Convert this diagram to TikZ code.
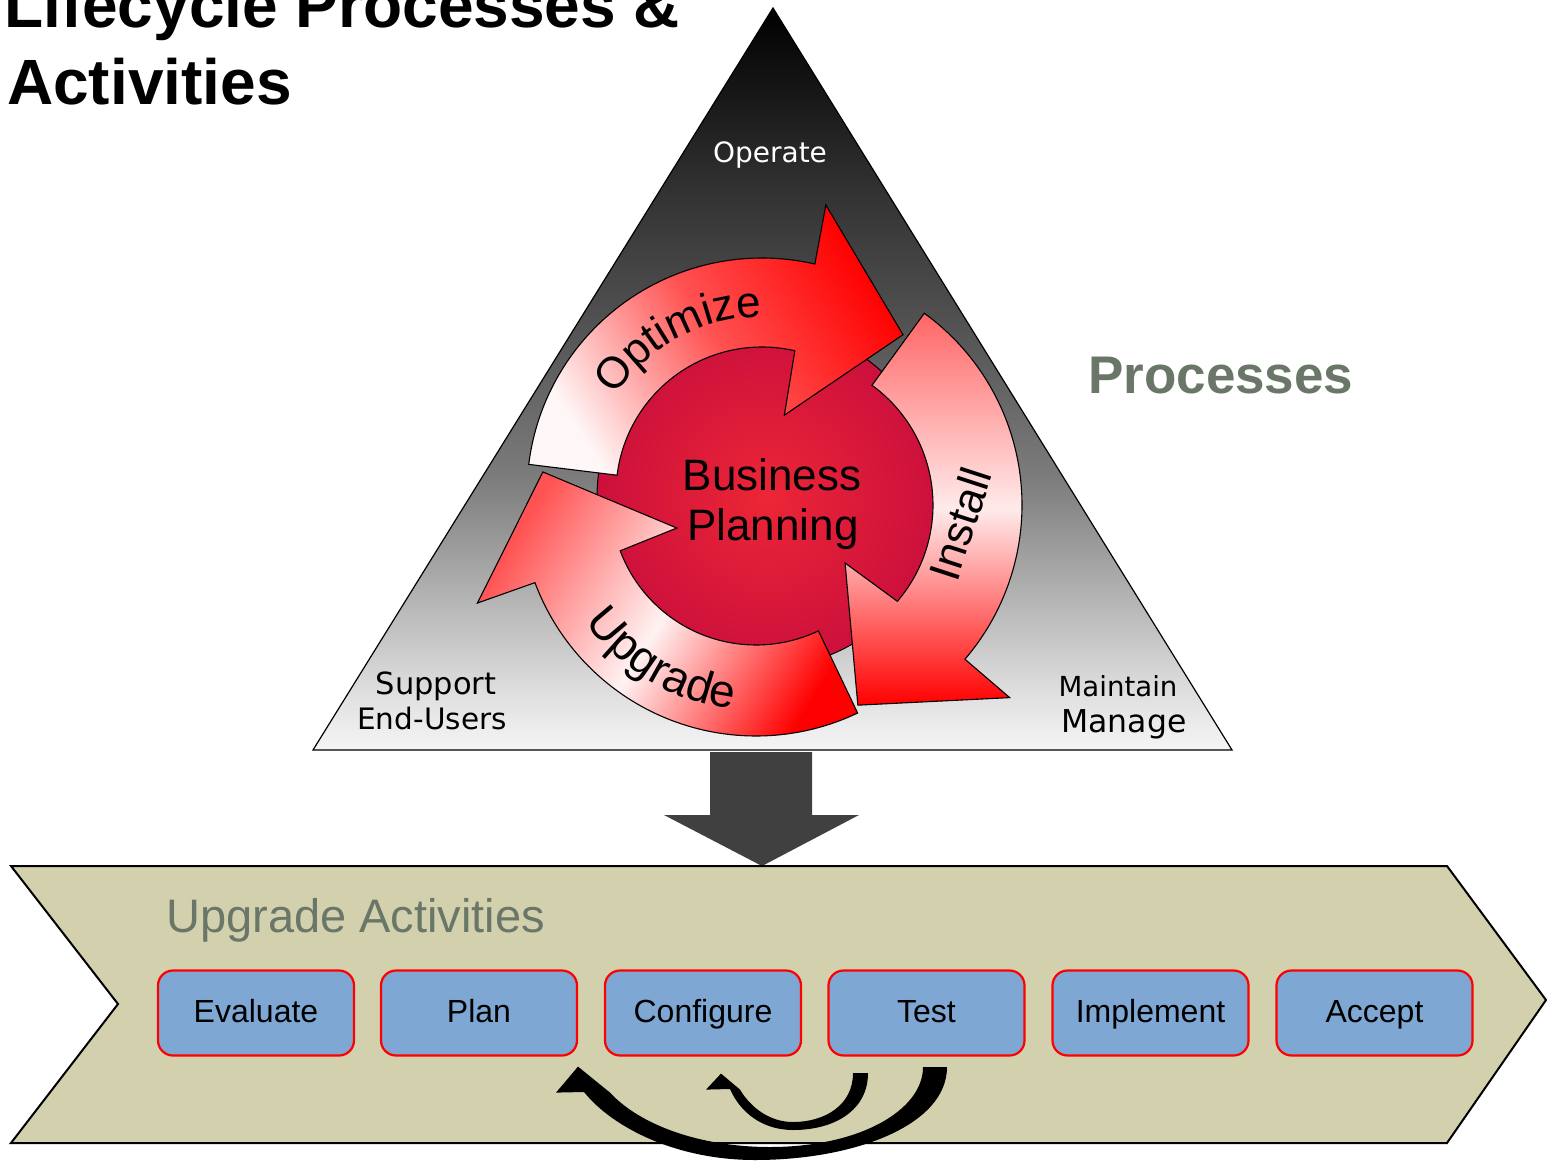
\documentclass[tikz,border=0pt]{standalone}
\usepackage{fontspec}
\setmainfont{Liberation Sans}
\newfontfamily\dvfont{DejaVu Sans}
\usetikzlibrary{calc,decorations.text}
\definecolor{bandfill}{RGB}{211,209,173}
\definecolor{boxfill}{RGB}{126,167,212}
\definecolor{sage}{RGB}{106,119,104}
\definecolor{darkarrow}{RGB}{64,64,64}
\definecolor{discin}{RGB}{236,38,54}
\definecolor{discout}{RGB}{204,16,60}
\definecolor{tA}{RGB}{245,245,245}
\definecolor{tB}{RGB}{222,222,222}
\definecolor{tC}{RGB}{176,176,176}
\definecolor{tD}{RGB}{125,125,125}
\definecolor{tE}{RGB}{76,76,76}
\definecolor{tF}{RGB}{52,52,52}
\pgfdeclareverticalshading{trishade}{100bp}{color(0bp)=(tA); color(25bp)=(tA); color(29bp)=(tB); color(35.8bp)=(tC); color(43.2bp)=(tD); color(55.3bp)=(tE); color(62.1bp)=(tF); color(75bp)=(black); color(100bp)=(black)}
\newcommand\arcfont{\fontsize{44}{44}\selectfont}
\newcommand\upfont{\fontsize{46}{46}\selectfont}
\tikzset{
  cyc/.style={draw=black, line width=1.1pt, line join=miter},
  act/.style={draw=red, line width=2.2pt, fill=boxfill, rounded corners=15pt,
    minimum width=196pt, minimum height=85pt, inner sep=0pt,
    text height=18pt, text depth=0pt, font=\fontsize{32}{32}\selectfont},
  lbl/.style={anchor=base, inner sep=0pt},
  loop/.style={fill=black}
}
\begin{document}
\begin{tikzpicture}[x=1pt,y=-1pt]
\fill[white] (0,0) rectangle (1547,1161);
\useasboundingbox (0,0) rectangle (1547,1161);

% triangle
\shadedraw[shading=trishade, draw=black, line width=1.2pt] (773,8) -- (1232,750) -- (313,750) -- cycle;

% business planning disc
\shadedraw[inner color=discin, outer color=discout, draw=black, line width=1pt] (767,497) circle[radius=170];

% Optimize arrow
\begin{scope}[shift={(762,493)}]
\shadedraw[cyc, top color=red, bottom color=red!3!white, middle color=red!68!white, shading angle=-57]
  (187:235) arc[start angle=187, end angle=283, radius=235] -- (282.5:295) -- (311.7:212) -- (286:81) -- (283:146)
  arc[start angle=283, end angle=187, radius=146] -- cycle;
\path[decorate, decoration={text along path, text={|\arcfont|Optimize}, text align=center}]
  (191.6:176) arc[start angle=191.6, end angle=291.6, radius=176];
\end{scope}

% Install arrow
\begin{scope}[shift={(785,505)}]
\shadedraw[cyc, top color=red!60!white, bottom color=red, middle color=red!8!white]
  (-54:237) arc[start angle=-54, end angle=40.6, radius=237] -- (40.6:296) -- (70:213) -- (44:83.5) -- (40.6:148)
  arc[start angle=40.6, end angle=-54, radius=148] -- cycle;
\end{scope}
\node[font=\arcfont, rotate=72] (ins) at (960,524) {Install};

% Upgrade arrow
\begin{scope}[shift={(756,500)}]
\shadedraw[cyc, top color=red!68!white, bottom color=red, middle color=red!5!white, shading angle=58]
  (64.5:236) arc[start angle=64.5, end angle=159.5, radius=236] -- (159.7:297) -- (187.5:215) -- (160.5:84) -- (159.5:145)
  arc[start angle=159.5, end angle=64.5, radius=145] -- cycle;
\path[decorate, decoration={text along path, text={|\upfont|Upgrade}, text align=center}]
  (170.4:210) arc[start angle=170.4, end angle=70.4, radius=210];
\end{scope}

% centre text
\node[lbl, font=\fontsize{44}{44}\selectfont] (bus) at (772,490) {Business};
\node[lbl, font=\fontsize{44}{44}\selectfont] (pln) at (773,540) {Planning};

% corner labels
\node[lbl, text=white, font=\dvfont\fontsize{28}{28}\selectfont] (op) at (770,163) {Operate};
\node[lbl, font=\dvfont\fontsize{30.5}{31}\selectfont] (sup) at (436,694) {Support};
\node[lbl, font=\dvfont\fontsize{29.5}{30}\selectfont] (eu) at (432,729) {End-Users};
\node[lbl, font=\dvfont\fontsize{27.6}{28}\selectfont] (mt) at (1118,696) {Maintain};
\node[lbl, font=\dvfont\fontsize{31.5}{32}\selectfont] (mg) at (1124,732) {Manage};

% headings
\node[anchor=base west, inner sep=0pt, font=\bfseries\fontsize{64}{64}\selectfont] (t1) at (4,28) {Lifecycle Processes \&};
\node[anchor=base west, inner sep=0pt, font=\bfseries\fontsize{64}{64}\selectfont] (t2) at (7,105) {Activities};
\node[anchor=base west, inner sep=0pt, text=sage, font=\bfseries\fontsize{53}{53}\selectfont] (proc) at (1088,393) {Processes};

% down arrow
\fill[darkarrow] (710,752) -- (812,752) -- (812,815) -- (859,815) -- (762,866) -- (664,815) -- (710,815) -- cycle;

% activities band
\draw[fill=bandfill, line width=2pt, line join=miter] (11,866) -- (1447,866) -- (1546,1000) -- (1447,1143) -- (11,1143) -- (118,1004) -- cycle;
\node[anchor=base west, inner sep=0pt, text=sage, font=\fontsize{47}{47}\selectfont] (ua) at (166,932) {Upgrade Activities};

% activity boxes
\node[act] (ev) at (256,1013) {Evaluate};
\node[act] (pl) at (479,1013) {Plan};
\node[act] (cf) at (703,1013) {Configure};
\node[act] (ts) at (926.5,1013) {Test};
\node[act] (im) at (1150.5,1013) {Implement};
\node[act] (ac) at (1374.5,1013) {Accept};

% loop-back connectors
\coordinate (sT) at ([xshift=-66pt,yshift=-16.5pt]ts.south);
\coordinate (sH) at ([xshift=18pt,yshift=-17pt]cf.south);
\coordinate (bT) at ([xshift=8.5pt,yshift=-10.5pt]ts.south);
\coordinate (bH) at ([xshift=99pt,yshift=-10pt]pl.south);

\fill[loop] ($(sT)+(7.5,0)$) .. controls (868,1110) and (835,1130) .. (793,1130)
  .. controls (762,1130) and (740,1112) .. (730,1089) -- ($(sH)+(-15,16)$) -- (sH) -- ($(sH)+(19,16)$)
  .. controls (751,1108) and (770,1122) .. (793,1122) .. controls (825,1122) and (853,1105) .. ($(sT)+(-7.5,0)$) -- cycle;

\fill[loop] ($(bT)+(12,0)$) .. controls (947,1125) and (855,1160) .. (755,1160)
  .. controls (677,1160) and (613,1128) .. (584,1092) -- ($(bH)+(-22,26)$) -- (bH) -- ($(bH)+(32,26)$)
  .. controls (640,1125) and (700,1147) .. (770,1147) .. controls (860,1147) and (923,1110) .. ($(bT)+(-12,0)$) -- cycle;
\end{tikzpicture}
\end{document}
